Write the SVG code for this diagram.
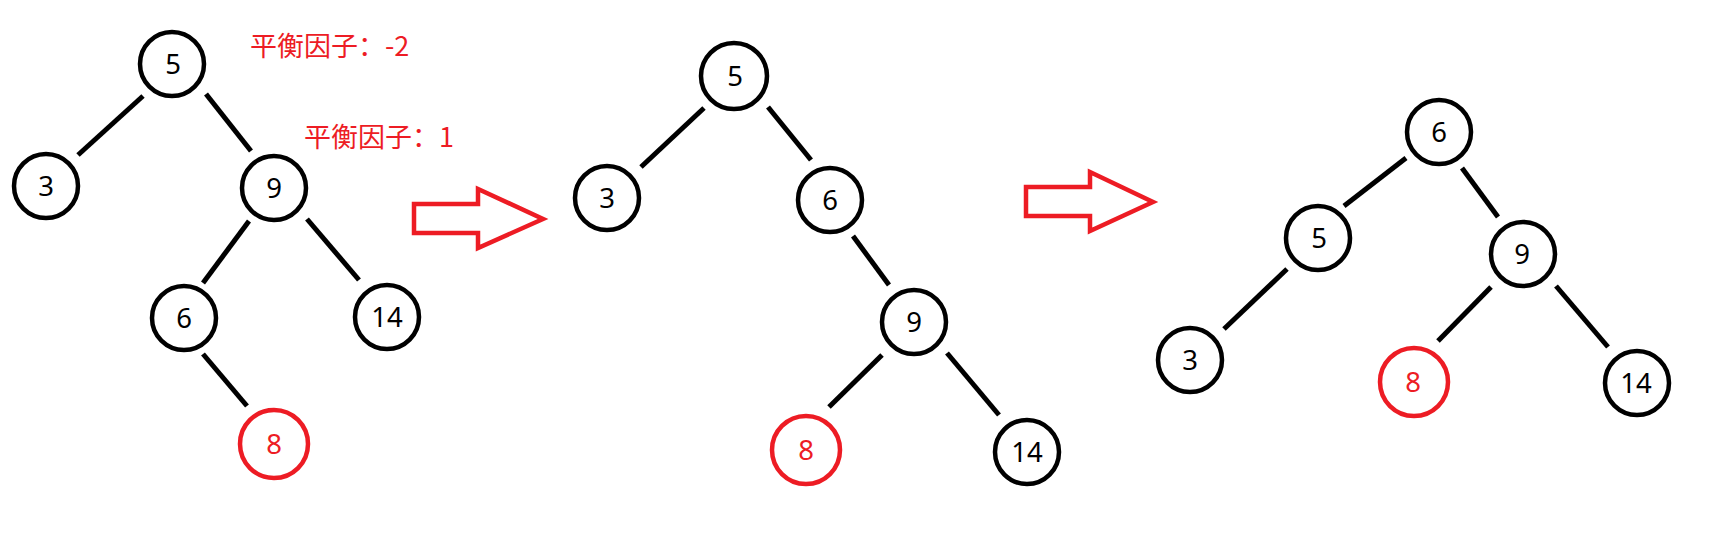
<svg xmlns="http://www.w3.org/2000/svg" width="1724" height="537" viewBox="0 0 1724 537">
<style>
.n circle{fill:#fff;stroke:#000;stroke-width:4.5}
.n text{font-family:"Noto Sans",sans-serif;font-size:27.5px;fill:#000;text-anchor:middle}
.r circle{stroke:#ED1C24}
.r text{fill:#ED1C24}
.e line{stroke:#000;stroke-width:5}
.lbl{font-family:"Noto Sans CJK SC","Noto Sans",sans-serif;font-size:27px;fill:#ED1C24}
.arr{fill:none;stroke:#ED1C24;stroke-width:4.5;stroke-linejoin:miter}
</style>
<rect width="1724" height="537" fill="#fff"/>
<g id="edges" class="e">
<line x1="143" y1="96" x2="78" y2="155"/>
<line x1="206" y1="94" x2="251" y2="151"/>
<line x1="249" y1="221" x2="203" y2="283"/>
<line x1="307" y1="219" x2="359" y2="280"/>
<line x1="203" y1="354" x2="247" y2="406"/>
<line x1="704" y1="108" x2="641" y2="167"/>
<line x1="768" y1="107" x2="811" y2="160"/>
<line x1="853" y1="236" x2="889" y2="285"/>
<line x1="882" y1="355" x2="829" y2="407"/>
<line x1="947" y1="353" x2="999" y2="415"/>
<line x1="1406" y1="158" x2="1344" y2="206"/>
<line x1="1462" y1="168" x2="1498" y2="217"/>
<line x1="1287" y1="269" x2="1224" y2="329"/>
<line x1="1491" y1="287" x2="1438" y2="341"/>
<line x1="1556" y1="286" x2="1608" y2="347"/>
</g>
<g id="t1-5" class="n"><circle cx="172" cy="64" r="32"/><text x="173" y="74">5</text></g>
<g id="t1-3" class="n"><circle cx="46" cy="186" r="32"/><text x="46" y="196">3</text></g>
<g id="t1-9" class="n"><circle cx="274" cy="188" r="32"/><text x="274" y="198">9</text></g>
<g id="t1-6" class="n"><circle cx="184" cy="318" r="32"/><text x="184" y="328">6</text></g>
<g id="t1-14" class="n"><circle cx="387" cy="317" r="32"/><text x="387" y="327">14</text></g>
<g id="t1-8" class="n r"><circle cx="274" cy="444" r="34"/><text x="274" y="454">8</text></g>
<g id="label1"><text class="lbl" x="250" y="56">平衡因子：-2</text></g>
<g id="label2"><text class="lbl" x="304" y="147">平衡因子：1</text></g>
<g id="arrow1"><polygon class="arr" points="414,204 478,204 478,189 543,219 478,248 478,233 414,233"/></g>
<g id="t2-5" class="n"><circle cx="734" cy="76" r="33"/><text x="735" y="86">5</text></g>
<g id="t2-3" class="n"><circle cx="607" cy="198" r="32"/><text x="607" y="208">3</text></g>
<g id="t2-6" class="n"><circle cx="830" cy="200" r="32"/><text x="830" y="210">6</text></g>
<g id="t2-9" class="n"><circle cx="914" cy="322" r="32"/><text x="914" y="332">9</text></g>
<g id="t2-8" class="n r"><circle cx="806" cy="450" r="34"/><text x="806" y="460">8</text></g>
<g id="t2-14" class="n"><circle cx="1027" cy="452" r="32"/><text x="1027" y="462">14</text></g>
<g id="arrow2"><polygon class="arr" points="1026,187 1090,187 1090,172 1153,202 1090,231 1090,216 1026,216"/></g>
<g id="t3-6" class="n"><circle cx="1439" cy="132" r="32"/><text x="1439" y="142">6</text></g>
<g id="t3-5" class="n"><circle cx="1318" cy="238" r="32"/><text x="1319" y="248">5</text></g>
<g id="t3-9" class="n"><circle cx="1523" cy="254" r="32"/><text x="1522" y="264">9</text></g>
<g id="t3-3" class="n"><circle cx="1190" cy="360" r="32"/><text x="1190" y="370">3</text></g>
<g id="t3-8" class="n r"><circle cx="1414" cy="382" r="34"/><text x="1413" y="392">8</text></g>
<g id="t3-14" class="n"><circle cx="1637" cy="383" r="32"/><text x="1636" y="393">14</text></g>
</svg>
